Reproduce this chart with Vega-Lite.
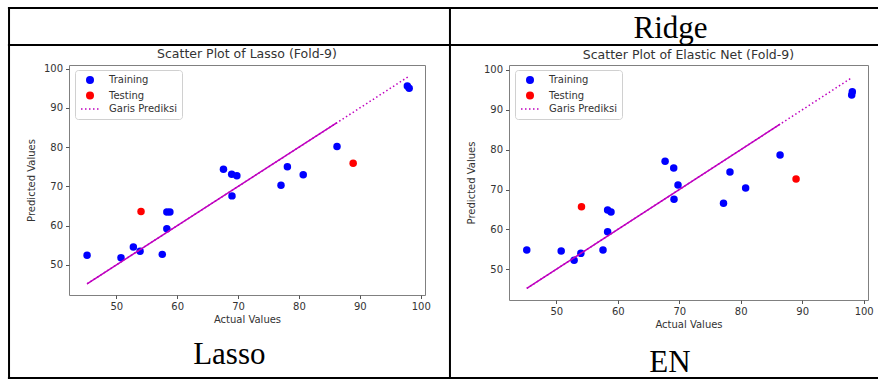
{
  "$schema": "https://vega.github.io/schema/vega-lite/v6.json",
  "background": "white",
  "autosize": {"type": "pad"},
  "padding": {"left": 6, "top": 5, "right": 0, "bottom": 0},
  "spacing": 84,
  "bounds": "flush",
  "resolve": {
    "scale": {"fill": "independent", "stroke": "independent", "shape": "independent", "strokeDash": "independent"},
    "legend": {"fill": "independent", "stroke": "independent", "shape": "independent", "strokeDash": "independent"}
  },
  "datasets": {
    "lasso": [
      {"actual": 97.8, "predicted": 95.6, "set": "Training"},
      {"actual": 98.1, "predicted": 95.0, "set": "Training"},
      {"actual": 86.25, "predicted": 80.2, "set": "Training"},
      {"actual": 67.6, "predicted": 74.4, "set": "Training"},
      {"actual": 68.95, "predicted": 73.1, "set": "Training"},
      {"actual": 69.8, "predicted": 72.75, "set": "Training"},
      {"actual": 78.1, "predicted": 75.0, "set": "Training"},
      {"actual": 80.7, "predicted": 73.0, "set": "Training"},
      {"actual": 77.05, "predicted": 70.3, "set": "Training"},
      {"actual": 69.0, "predicted": 67.6, "set": "Training"},
      {"actual": 58.3, "predicted": 63.5, "set": "Training"},
      {"actual": 58.8, "predicted": 63.5, "set": "Training"},
      {"actual": 58.3, "predicted": 59.25, "set": "Training"},
      {"actual": 45.2, "predicted": 52.5, "set": "Training"},
      {"actual": 50.77, "predicted": 51.85, "set": "Training"},
      {"actual": 52.8, "predicted": 54.6, "set": "Training"},
      {"actual": 53.9, "predicted": 53.5, "set": "Training"},
      {"actual": 57.55, "predicted": 52.7, "set": "Training"},
      {"actual": 88.9, "predicted": 75.9, "set": "Testing"},
      {"actual": 54.06, "predicted": 63.6, "set": "Testing"}
    ],
    "en": [
      {"actual": 98.15, "predicted": 94.55, "set": "Training"},
      {"actual": 98.05, "predicted": 93.7, "set": "Training"},
      {"actual": 86.4, "predicted": 78.7, "set": "Training"},
      {"actual": 67.7, "predicted": 77.1, "set": "Training"},
      {"actual": 69.1, "predicted": 75.4, "set": "Training"},
      {"actual": 69.8, "predicted": 71.15, "set": "Training"},
      {"actual": 78.25, "predicted": 74.4, "set": "Training"},
      {"actual": 80.8, "predicted": 70.4, "set": "Training"},
      {"actual": 77.2, "predicted": 66.55, "set": "Training"},
      {"actual": 69.15, "predicted": 67.55, "set": "Training"},
      {"actual": 58.35, "predicted": 64.9, "set": "Training"},
      {"actual": 58.9, "predicted": 64.4, "set": "Training"},
      {"actual": 58.35, "predicted": 59.4, "set": "Training"},
      {"actual": 45.2, "predicted": 54.85, "set": "Training"},
      {"actual": 50.8, "predicted": 54.6, "set": "Training"},
      {"actual": 52.9, "predicted": 52.3, "set": "Training"},
      {"actual": 54.0, "predicted": 54.0, "set": "Training"},
      {"actual": 57.6, "predicted": 54.85, "set": "Training"},
      {"actual": 89.0, "predicted": 72.65, "set": "Testing"},
      {"actual": 54.1, "predicted": 65.7, "set": "Testing"}
    ],
    "lassoSolid": [{"actual": 45.2, "predicted": 45.2}, {"actual": 86.25, "predicted": 86.25}],
    "lassoDotted": [{"actual": 45.2, "predicted": 45.2}, {"actual": 98.1, "predicted": 98.1}],
    "enSolid": [{"actual": 45.2, "predicted": 45.2}, {"actual": 86.4, "predicted": 86.4}],
    "enDotted": [{"actual": 45.2, "predicted": 45.2}, {"actual": 98.15, "predicted": 98.15}]
  },
  "hconcat": [
    {
      "width": 356,
      "height": 230,
      "layer": [
        {
          "data": {"values": [{}]},
          "mark": {"type": "rule", "color": "black", "strokeWidth": 2, "clip": false},
          "encoding": {"x": {"datum": 32.2, "type": "quantitative"}, "x2": {"datum": 175.42}, "y": {"datum": 115.46, "type": "quantitative"}}
        },
        {
          "data": {"values": [{}]},
          "mark": {"type": "rule", "color": "black", "strokeWidth": 1.8, "clip": false},
          "encoding": {"x": {"datum": 32.2, "type": "quantitative"}, "x2": {"datum": 175.42}, "y": {"datum": 106.03, "type": "quantitative"}}
        },
        {
          "data": {"values": [{}]},
          "mark": {"type": "rule", "color": "black", "strokeWidth": 2, "clip": false},
          "encoding": {"x": {"datum": 32.2, "type": "quantitative"}, "x2": {"datum": 175.42}, "y": {"datum": 21.21, "type": "quantitative"}}
        },
        {
          "data": {"values": [{}]},
          "mark": {"type": "rule", "color": "black", "strokeWidth": 2, "clip": false},
          "encoding": {"x": {"datum": 32.38, "type": "quantitative"}, "y": {"datum": 115.7, "type": "quantitative"}, "y2": {"datum": 20.95}}
        },
        {
          "data": {"values": [{}]},
          "mark": {"type": "rule", "color": "black", "strokeWidth": 2, "clip": false},
          "encoding": {"x": {"datum": 104.8, "type": "quantitative"}, "y": {"datum": 115.7, "type": "quantitative"}, "y2": {"datum": 20.95}}
        },
        {
          "data": {"name": "lasso"},
          "mark": {"type": "point", "filled": true, "opacity": 1, "size": 56, "strokeWidth": 1.5, "clip": false},
          "encoding": {
            "x": {"field": "actual", "type": "quantitative", "title": "Actual Values", "scale": {"domain": [42.23, 100.7], "nice": false, "zero": false}, "axis": {"values": [50, 60, 70, 80, 90, 100], "format": "d"}},
            "y": {"field": "predicted", "type": "quantitative", "title": "Predicted Values", "scale": {"domain": [42.35, 100.94], "nice": false, "zero": false}, "axis": {"values": [50, 60, 70, 80, 90, 100], "format": "d"}},
            "fill": {"field": "set", "type": "nominal", "scale": {"domain": ["Training", "Testing", "Garis Prediksi"], "range": ["#0000ff", "#ff0000", "#bf00bf"]}},
            "stroke": {"field": "set", "type": "nominal", "scale": {"domain": ["Training", "Testing", "Garis Prediksi"], "range": ["transparent", "transparent", "#bf00bf"]}},
            "shape": {"field": "set", "type": "nominal", "scale": {"domain": ["Training", "Testing", "Garis Prediksi"], "range": ["circle", "circle", "M-2.25,0H2.25"]}},
            "strokeDash": {"field": "set", "type": "nominal", "scale": {"domain": ["Training", "Testing", "Garis Prediksi"], "range": [[1, 0], [1, 0], [1.5, 2.5]]}}
          }
        },
        {
          "data": {"name": "lassoSolid"},
          "mark": {"type": "line", "color": "#bf00bf", "strokeWidth": 1.5, "clip": false},
          "encoding": {"x": {"field": "actual", "type": "quantitative"}, "y": {"field": "predicted", "type": "quantitative"}}
        },
        {
          "data": {"name": "lassoDotted"},
          "mark": {"type": "line", "color": "#bf00bf", "strokeWidth": 1.5, "strokeDash": [1.5, 2.5], "clip": false},
          "encoding": {"x": {"field": "actual", "type": "quantitative"}, "y": {"field": "predicted", "type": "quantitative"}}
        },
        {
          "data": {"values": [{"label": "Scatter Plot of Lasso (Fold-9)", "ax": 71.46, "ay": 102.6}]},
          "mark": {"type": "text", "font": "DejaVu Sans", "fontSize": 12.5, "align": "center", "baseline": "alphabetic", "color": "#333", "clip": false},
          "encoding": {"text": {"field": "label"}, "x": {"field": "ax", "type": "quantitative"}, "y": {"field": "ay", "type": "quantitative"}}
        },
        {
          "data": {"values": [{"label": "Lasso", "ax": 68.56, "ay": 24.7}]},
          "mark": {"type": "text", "font": "Liberation Serif", "fontSize": 31, "align": "center", "baseline": "alphabetic", "color": "black", "clip": false},
          "encoding": {"text": {"field": "label"}, "x": {"field": "ax", "type": "quantitative"}, "y": {"field": "ay", "type": "quantitative"}}
        }
      ]
    },
    {
      "width": 359,
      "height": 235,
      "layer": [
        {
          "data": {"name": "en"},
          "mark": {"type": "point", "filled": true, "opacity": 1, "size": 56, "strokeWidth": 1.5, "clip": false},
          "encoding": {
            "x": {"field": "actual", "type": "quantitative", "title": "Actual Values", "scale": {"domain": [42.31, 100.7], "nice": false, "zero": false}, "axis": {"values": [50, 60, 70, 80, 90, 100], "format": "d"}},
            "y": {"field": "predicted", "type": "quantitative", "title": "Predicted Values", "scale": {"domain": [42.3, 101.25], "nice": false, "zero": false}, "axis": {"values": [50, 60, 70, 80, 90, 100], "format": "d"}},
            "fill": {"field": "set", "type": "nominal", "scale": {"domain": ["Training", "Testing", "Garis Prediksi"], "range": ["#0000ff", "#ff0000", "#bf00bf"]}},
            "stroke": {"field": "set", "type": "nominal", "scale": {"domain": ["Training", "Testing", "Garis Prediksi"], "range": ["transparent", "transparent", "#bf00bf"]}},
            "shape": {"field": "set", "type": "nominal", "scale": {"domain": ["Training", "Testing", "Garis Prediksi"], "range": ["circle", "circle", "M-2.25,0H2.25"]}},
            "strokeDash": {"field": "set", "type": "nominal", "scale": {"domain": ["Training", "Testing", "Garis Prediksi"], "range": [[1, 0], [1, 0], [1.5, 2.5]]}}
          }
        },
        {
          "data": {"name": "enSolid"},
          "mark": {"type": "line", "color": "#bf00bf", "strokeWidth": 1.5, "clip": false},
          "encoding": {"x": {"field": "actual", "type": "quantitative"}, "y": {"field": "predicted", "type": "quantitative"}}
        },
        {
          "data": {"name": "enDotted"},
          "mark": {"type": "line", "color": "#bf00bf", "strokeWidth": 1.5, "strokeDash": [1.5, 2.5], "clip": false},
          "encoding": {"x": {"field": "actual", "type": "quantitative"}, "y": {"field": "predicted", "type": "quantitative"}}
        },
        {
          "data": {"values": [{"label": "Scatter Plot of Elastic Net (Fold-9)", "ax": 71.5, "ay": 102.76}]},
          "mark": {"type": "text", "font": "DejaVu Sans", "fontSize": 12.5, "align": "center", "baseline": "alphabetic", "color": "#333", "clip": false},
          "encoding": {"text": {"field": "label"}, "x": {"field": "ax", "type": "quantitative"}, "y": {"field": "ay", "type": "quantitative"}}
        },
        {
          "data": {"values": [{"label": "Ridge", "ax": 68.58, "ay": 108.1}, {"label": "EN", "ax": 68.5, "ay": 24.23}]},
          "mark": {"type": "text", "font": "Liberation Serif", "fontSize": 31, "align": "center", "baseline": "alphabetic", "color": "black", "clip": false},
          "encoding": {"text": {"field": "label"}, "x": {"field": "ax", "type": "quantitative"}, "y": {"field": "ay", "type": "quantitative"}}
        }
      ]
    }
  ],
  "config": {
    "view": {"stroke": "#808080", "strokeWidth": 1},
    "axis": {"domain": false, "grid": false, "tickColor": "#555", "tickSize": 3.5, "tickWidth": 1, "labelFont": "DejaVu Sans", "labelFontSize": 10, "labelColor": "#333", "titleFont": "DejaVu Sans", "titleFontSize": 10, "titleColor": "#333", "titleFontWeight": "normal", "labelPadding": 3},
    "axisX": {"titlePadding": 3},
    "axisY": {"titlePadding": 7},
    "legend": {
      "orient": "none", "legendX": 6, "legendY": 5, "title": null,
      "fillColor": "white", "strokeColor": "#d0d0d0", "cornerRadius": 3, "padding": 5, "rowPadding": 1.5,
      "symbolSize": 64, "symbolOffset": 5,
      "labelOffset": 14, "labelFont": "DejaVu Sans", "labelFontSize": 10, "labelColor": "#333", "symbolStrokeWidth": 1.5, "symbolOpacity": 1
    }
  }
}
